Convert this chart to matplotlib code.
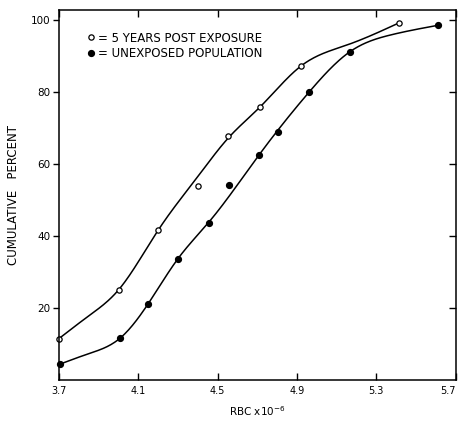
import numpy as np
import matplotlib
matplotlib.use('Agg')
import matplotlib.pyplot as plt

post_x = [3.70, 4.00, 4.20, 4.40, 4.55, 4.715, 4.92, 5.415]
post_y = [11.5, 25.1, 41.6, 54.0, 67.8, 75.9, 87.2, 99.2]

unexp_x = [3.705, 4.01, 4.15, 4.30, 4.455, 4.555, 4.71, 4.805, 4.96, 5.165, 5.61]
unexp_y = [4.3, 11.7, 21.2, 33.7, 43.6, 54.1, 62.6, 69.0, 79.9, 91.1, 98.5]

# hand-drawn fitted curves, knots
post_cx = [3.70, 3.85, 4.00, 4.20, 4.40, 4.55, 4.715, 4.92, 5.15, 5.415]
post_cy = [11.5, 17.8, 25.0, 41.6, 56.5, 67.0, 75.9, 87.2, 93.0, 99.2]

unexp_cx = [3.70, 3.85, 4.01, 4.15, 4.30, 4.455, 4.71, 4.96, 5.165, 5.37, 5.61]
unexp_cy = [4.3, 7.3, 11.7, 21.2, 33.7, 43.8, 62.6, 79.9, 91.1, 95.8, 98.5]

xticks = [3.7, 4.1, 4.5, 4.9, 5.3, 5.7]
yticks = [20, 40, 60, 80, 100]


def spline(xs, ys, n=300):
    # natural cubic spline through the knots
    x = np.asarray(xs, float)
    y = np.asarray(ys, float)
    k = len(x)
    h = np.diff(x)
    A = np.zeros((k, k))
    b = np.zeros(k)
    A[0, 0] = A[-1, -1] = 1
    for i in range(1, k - 1):
        A[i, i - 1] = h[i - 1]
        A[i, i] = 2 * (h[i - 1] + h[i])
        A[i, i + 1] = h[i]
        b[i] = 6 * ((y[i + 1] - y[i]) / h[i] - (y[i] - y[i - 1]) / h[i - 1])
    m = np.linalg.solve(A, b)
    xx = np.linspace(x[0], x[-1], n)
    j = np.clip(np.searchsorted(x, xx) - 1, 0, k - 2)
    t0 = x[j + 1] - xx
    t1 = xx - x[j]
    hj = h[j]
    yy = (m[j] * t0 ** 3 + m[j + 1] * t1 ** 3) / (6 * hj) \
        + (y[j] / hj - m[j] * hj / 6) * t0 + (y[j + 1] / hj - m[j + 1] * hj / 6) * t1
    return xx, yy


plt.rcParams['font.family'] = 'DejaVu Sans'
fig = plt.figure(figsize=(4.61, 4.25), dpi=100)
ax = fig.add_axes([0.128, 0.106, 0.8605, 0.870])

cx, cy = spline(post_cx, post_cy)
ax.plot(cx, cy, color='black', lw=1.1, clip_on=False)
cx, cy = spline(unexp_cx, unexp_cy)
ax.plot(cx, cy, color='black', lw=1.1, clip_on=False)

h1, = ax.plot(post_x, post_y, 'o', ms=3.8, mfc='white', mec='black', mew=0.9,
              ls='none', clip_on=False)
h2, = ax.plot(unexp_x, unexp_y, 'o', ms=4.2, mfc='black', mec='black',
              ls='none', clip_on=False)

ax.legend([h1, h2], ['= 5 YEARS POST EXPOSURE', '= UNEXPOSED POPULATION'],
          loc='upper left', bbox_to_anchor=(0.06, 0.955), frameon=False,
          handlelength=0.6, handletextpad=0.3, labelspacing=0.2,
          borderaxespad=0, prop={'size': 8.5})

ax.set_xlim(3.7, 5.7)
ax.set_ylim(0, 102.7)
ax.set_xticks(xticks)
ax.set_xticklabels(['3.7', '4.1', '4.5', '4.9', '5.3', '5.7'])
ax.set_yticks(yticks)
ax.tick_params(axis='x', direction='in', top=True, length=5, width=1,
               labelsize=7, pad=4)
ax.tick_params(axis='y', direction='out', length=4, width=1, labelsize=7.5, pad=2)
ax.tick_params(axis='y', which='both', right=True)
for t in ax.yaxis.get_ticklines()[1::2]:
    t.set_marker(0)  # right side ticks point inward
    t.set_markersize(5)
ax.get_xticklabels()[-1].set_horizontalalignment('right')

for s in ax.spines.values():
    s.set_linewidth(1.1)

ax.set_ylabel('CUMULATIVE   PERCENT', fontsize=8.5, labelpad=8)
ax.set_xlabel(r'RBC x10$^{-6}$', fontsize=7.5, labelpad=6)

fig.savefig('out.png', dpi=100)
